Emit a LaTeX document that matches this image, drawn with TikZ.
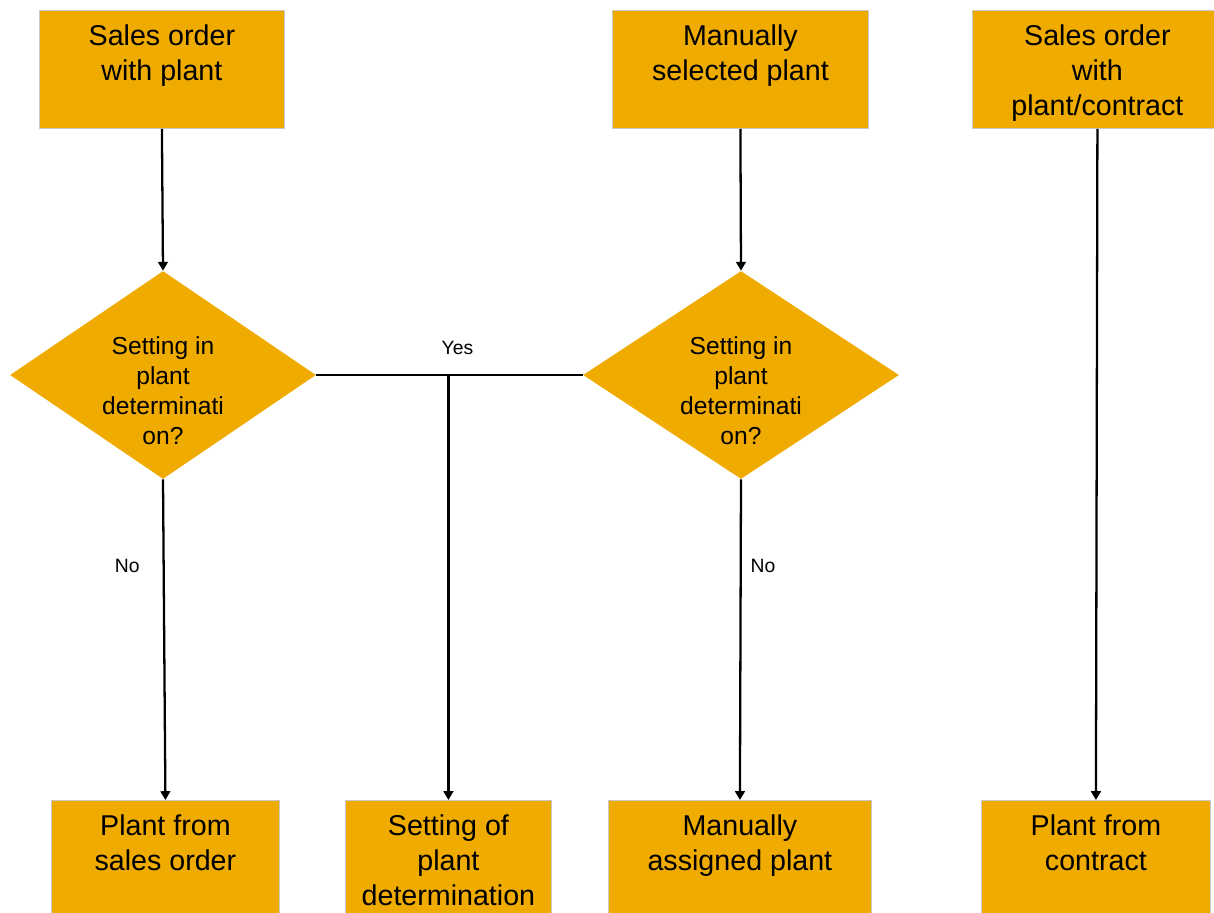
\documentclass[tikz,border=0pt]{standalone}
\usepackage{fontspec}
\setmainfont{Liberation Sans}
\usetikzlibrary{arrows.meta, shapes.geometric, positioning}
\definecolor{PlantGold}{HTML}{F0AB00}
\definecolor{EdgeGray}{HTML}{C9C9C9}
\newcommand{\BoxFont}{\fontsize{16.3}{19.8}\selectfont}
\newcommand{\AskFont}{\fontsize{14}{17}\selectfont}
% top aligned text in a fixed size box
\newcommand{\BoxText}[3]{\begin{minipage}[t][#2][t]{#1}\centering\rule{0pt}{20pt}#3\end{minipage}}
% question text, sitting a little low in the diamond
\newcommand{\AskText}[1]{\raisebox{-14pt}[0pt][0pt]{\begin{tabular}{@{}c@{}}#1\end{tabular}}}

\begin{document}
\begin{tikzpicture}[x=0.02cm, y=-0.02cm,
  box/.style={draw=EdgeGray, line width=0.5pt, fill=PlantGold, inner sep=0pt,
    anchor=north west, font=\BoxFont},
  ask/.style={diamond, fill=PlantGold, inner sep=0pt, minimum width=#1,
    minimum height=4.16cm, font=\AskFont},
  ask/.default=6.12cm,
  flow/.style={line width=1.3pt, -{Triangle[length=5pt,width=5.5pt]}},
  tag/.style={font=\fontsize{11}{13}\selectfont, inner sep=1pt}]
  \useasboundingbox (0,0) rectangle (1214,913);

  % sources
  \node[box] (salesorder) at (39,10) {\BoxText{4.9cm}{2.36cm}{Sales order\\with plant}};
  \node[box] (manual) at (612,10) {\BoxText{5.12cm}{2.36cm}{Manually\\selected plant}};
  \node[box] (contract) at (972,10) {\BoxText{5.0cm}{2.36cm}{Sales order\\with\\plant/contract}};

  % checks
  \node[ask] (check) at (163,375) {\AskText{Setting in\\plant\\determinati\\on?}};
  \node[ask=6.32cm] (recheck) at (741,375) {\AskText{Setting in\\plant\\determinati\\on?}};

  % results
  \node[box] (fromorder) at (51,800) {\BoxText{4.56cm}{2.28cm}{Plant from\\sales order}};
  \node[box] (setting) at (345,800) {\BoxText{4.12cm}{2.28cm}{Setting of\\plant\\determination}};
  \node[box] (assigned) at (608,800) {\BoxText{5.26cm}{2.28cm}{Manually\\assigned plant}};
  \node[box] (fromcontract) at (981,800) {\BoxText{4.58cm}{2.28cm}{Plant from\\contract}};

  % flow
  \draw[flow] (salesorder.south) -- (check.north);
  \draw[flow] (manual.south) -- (recheck.north);
  \draw[flow] (contract.south) -- (fromcontract.north);
  \draw[flow] (check.south) -- node[tag, pos=0.27, left=12pt] {No} (fromorder.north);
  \draw[flow] (recheck.south) -- node[tag, pos=0.27, right=4pt] {No} (assigned.north);
  \draw[line width=1.3pt] (check.east) -- node[tag, pos=0.53, above=10pt] {Yes} (recheck.west);
  \coordinate (fork) at (setting.north |- check.east);
  \draw[flow] (fork) -- (setting.north);
\end{tikzpicture}
\end{document}
